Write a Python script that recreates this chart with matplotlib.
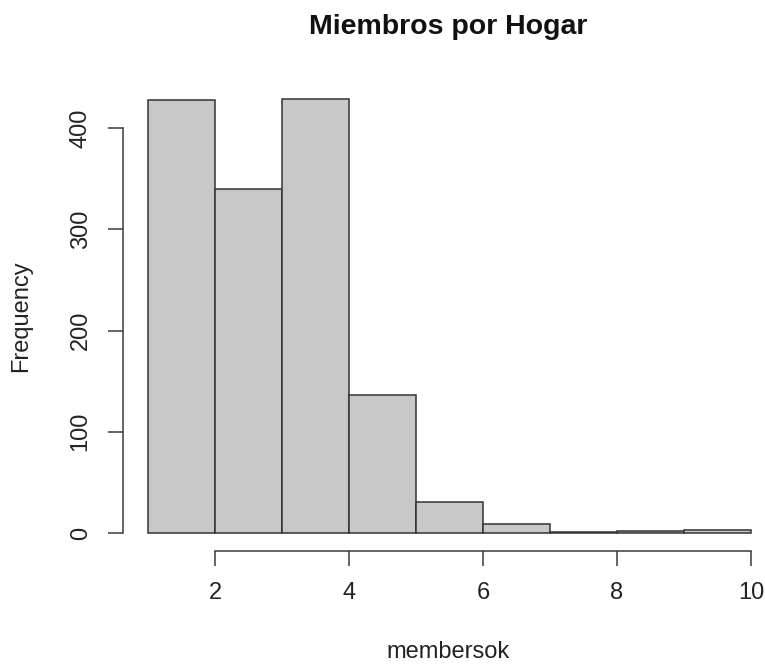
import matplotlib
matplotlib.use("Agg")
import matplotlib.pyplot as plt
import numpy as np

bin_edges = [1, 2, 3, 4, 5, 6, 7, 8, 9, 10]
counts = [428, 340, 429, 136, 31, 9, 1, 2, 3]
x_ticks = [2, 4, 6, 8, 10]
y_ticks = [0, 100, 200, 300, 400]
title = "Miembros por Hogar"
xlabel = "membersok"
ylabel = "Frequency"

plt.rcParams['font.family'] = ['Liberation Sans', 'DejaVu Sans']

W, H = 765, 664
fig = plt.figure(figsize=(W/100, H/100), dpi=100)

xlim = (0.625, 10.2)
ylim = (-17.8, 446)
# pixel mapping: x=1 -> 148, x=2 -> 215 ; y=0 -> 533, y=400 -> 128
pxu = 67.0
left_px = 148 - (1 - xlim[0]) * pxu
right_px = 148 + (xlim[1] - 1) * pxu
pyu = 405 / 400
bottom_px = 533 + (0 - ylim[0]) * pyu
top_px = 533 - (ylim[1]) * pyu
ax = fig.add_axes([left_px / W, 1 - bottom_px / H, (right_px - left_px) / W, (bottom_px - top_px) / H])

lefts = np.array(bin_edges[:-1])
widths = np.diff(bin_edges)
ax.bar(lefts, counts, width=widths, align='edge', color='#C8C8C8',
       edgecolor='#333333', linewidth=1.1)

ax.set_xlim(*xlim)
ax.set_ylim(*ylim)
for s in ['top', 'right']:
    ax.spines[s].set_visible(False)
ax.spines['left'].set_bounds(0, 400)
ax.spines['bottom'].set_bounds(2, 10)
for s in ['left', 'bottom']:
    ax.spines[s].set_color('#3a3a3a')
    ax.spines[s].set_linewidth(1.1)
ax.set_xticks(x_ticks)
ax.set_yticks(y_ticks)
ax.tick_params(axis='both', length=10.5, width=1.1, color='#3a3a3a',
               labelsize=17, labelcolor='#222222')
ax.tick_params(axis='x', pad=11.5)
ax.tick_params(axis='y', pad=12)
for lab in ax.get_yticklabels():
    lab.set_rotation(90)
    lab.set_va('center')

fig.text(448 / W, 1 - 34 / H, title, ha='center', va='baseline',
         fontsize=20.5, fontweight='bold', color='#111111')
fig.text(448 / W, 1 - 658 / H, xlabel, ha='center', va='baseline',
         fontsize=17, color='#222222')
fig.text(21 / W, 1 - 316 / H, ylabel, ha='center', va='center',
         fontsize=17, rotation=90, color='#222222')

fig.savefig("out.png", dpi=100)
